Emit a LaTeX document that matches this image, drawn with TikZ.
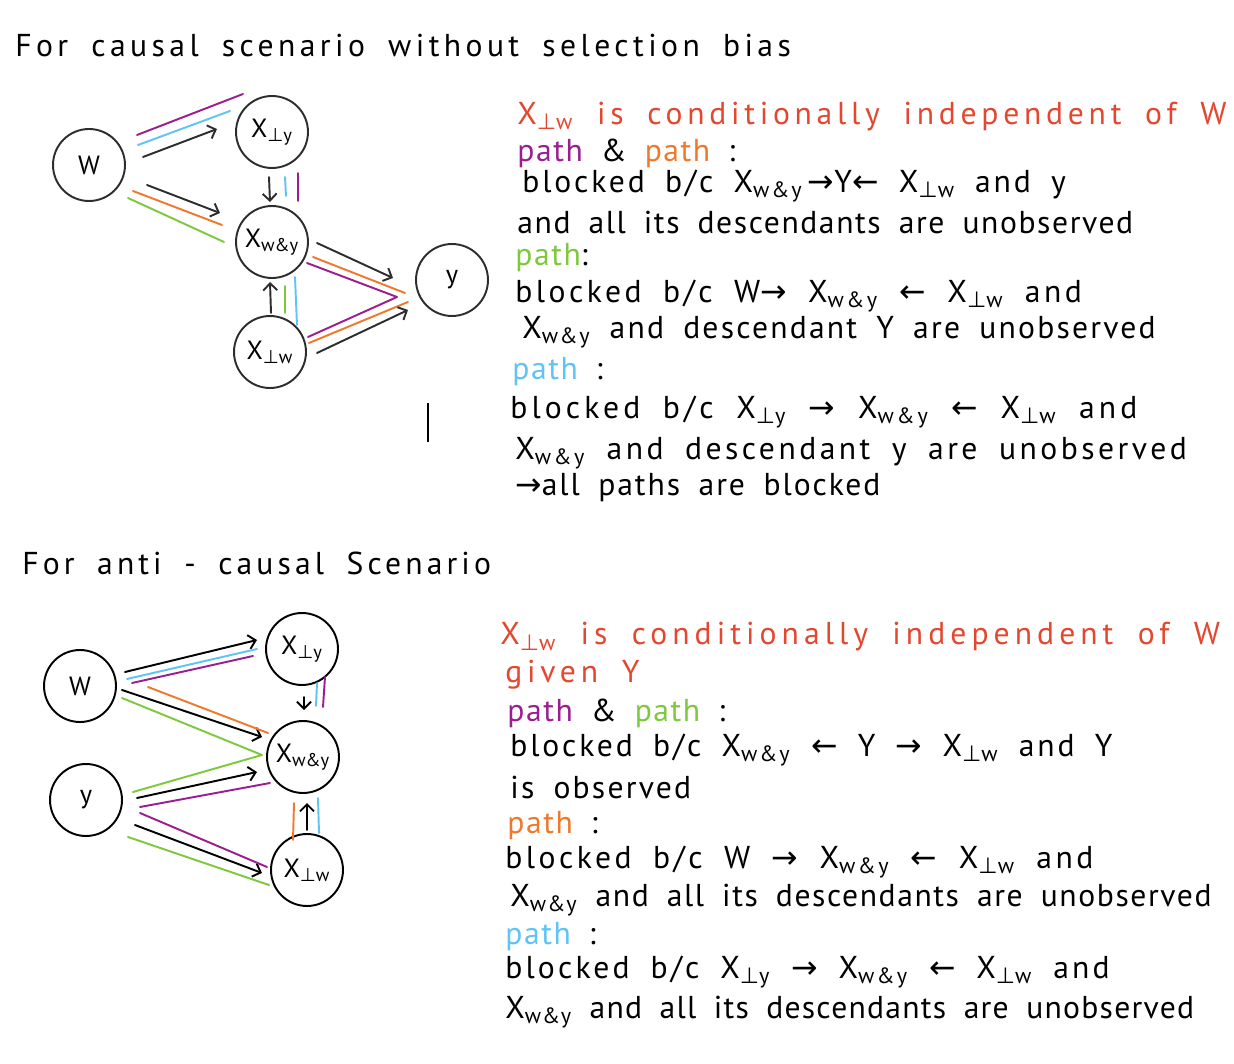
\documentclass[tikz,border=0pt]{standalone}
\usepackage{fontspec}
\setmainfont{PT Sans}[WordSpace=1.8]
\newfontfamily\symfont{DejaVu Sans}
\usetikzlibrary{arrows.meta,calc}

\definecolor{hred}{RGB}{226,72,48}
\definecolor{hmag}{RGB}{155,30,145}
\definecolor{horg}{RGB}{240,120,45}
\definecolor{hgrn}{RGB}{125,200,60}
\definecolor{hcyn}{RGB}{95,195,245}
\definecolor{hink}{RGB}{45,45,45}

\newcommand{\pp}{{\symfont ⊥}}
\newcommand{\toarr}{{\symfont →}}
\newcommand{\fromarr}{{\symfont ←}}
\newcommand{\Xpy}{X\textsubscript{\pp y}}
\newcommand{\Xpw}{X\textsubscript{\pp w}}
\newcommand{\Xwy}{X\textsubscript{w\&y}}

\tikzset{
  var/.style={circle,draw=hink,line width=1.1pt,minimum size=1.44cm,inner sep=0pt,
    font=\fontsize{15}{17}\selectfont},
  link/.style={hink,line width=1.1pt,line cap=round,-{Straight Barb[length=4pt,width=8pt]}},
  strand/.style={line width=1.1pt,line cap=round},
  hand/.style={anchor=west,inner sep=0pt,
    font=\fontsize{18}{22}\selectfont\addfontfeature{LetterSpace=#1}},
  hand/.default=5,
}

\begin{document}
\begin{tikzpicture}[x=0.02cm,y=-0.02cm]
  \useasboundingbox (0,0) rectangle (1234,1064);

  % ---- Causal scenario (top) ----
  \node[hand=14] (ttop) at (15,45) {For causal scenario without selection bias};

  \node[var] (w)   at (89,165)  {W};
  \node[var] (xpy) at (272,132) {\Xpy};
  \node[var] (xwy) at (272,242) {\Xwy};
  \node[var] (xpw) at (270,352) {\Xpw};
  \node[var] (y)   at (452,280) {y};

  % W to X_{perp y}
  \draw[link] ($(w)+(54,-8)$) -- ($(xpy)+(-55,-3)$);
  \draw[strand,hmag] ($(w)+(48,-30)$) -- ($(xpy)+(-29,-38)$);
  \draw[strand,hcyn] ($(w)+(49,-20)$) -- ($(xpy)+(-42,-21)$);
  % W to X_{w&y}
  \draw[link] ($(w)+(58,20)$) -- ($(xwy)+(-52,-29)$);
  \draw[strand,horg] ($(w)+(44,26)$) -- ($(xwy)+(-50,-17)$);
  \draw[strand,hgrn] ($(w)+(39,33)$) -- ($(xwy)+(-48,0)$);
  % X_{perp y} to X_{w&y}
  \draw[link] ($(xpy)+(-3,45)$) -- ($(xwy)+(-2,-40)$);
  \draw[strand,hcyn] ($(xpy)+(13,45)$) -- ($(xwy)+(14,-46)$);
  \draw[strand,hmag] ($(xpy)+(26,41)$) -- ($(xwy)+(26,-41)$);
  % X_{perp w} to X_{w&y}
  \draw[link] ($(xpw)+(1,-39)$) -- ($(xwy)+(-2,40)$);
  \draw[strand,hgrn] ($(xwy)+(13,44)$) -- ($(xpw)+(15,-39)$);
  \draw[strand,hcyn] ($(xwy)+(23,35)$) -- ($(xpw)+(27,-27)$);
  % into Y
  \draw[link] ($(xwy)+(45,1)$) -- ($(y)+(-59,-2)$);
  \draw[strand,horg] ($(xwy)+(41,15)$) -- ($(y)+(-47,13)$);
  \coordinate (vtip) at ($(y)+(-55,17)$);
  \draw[strand,hmag,line join=round] ($(xwy)+(35,21)$) -- (vtip) -- ($(xpw)+(38,-15)$);
  \draw[strand,horg] ($(xpw)+(39,-9)$) -- ($(y)+(-44,22)$);
  \draw[link] ($(xpw)+(47,1)$) -- ($(y)+(-44,30)$);

  % stray stroke
  \draw[line width=1.4pt] (428,403) -- (428,442);

  % Notes
  \node[hand=15,hred] (c1) at (517,117) {\Xpw\ is conditionally independent of W};
  \node[hand] (c2)  at (517,153) {{\color{hmag}path} \& {\color{horg}path} :};
  \node[hand=9] (c3)  at (522,186) {blocked b/c \Xwy\,\toarr Y\fromarr\ \Xpw\ and y};
  \node[hand] (c4)  at (517,222) {and all its descendants are unobserved};
  \node[hand] (c5)  at (515,258) {{\color{hgrn}path}:};
  \node[hand=11] (c6)  at (515,296) {blocked b/c W\toarr\ \Xwy\ \fromarr\ \Xpw\ and};
  \node[hand=7] (c7)  at (522,332) {\Xwy\ and descendant Y are unobserved};
  \node[hand] (c8)  at (512,372) {{\color{hcyn}path} :};
  \node[hand=13] (c9)  at (510,412) {blocked b/c \Xpy\ \toarr\ \Xwy\ \fromarr\ \Xpw\ and};
  \node[hand=11] (c10) at (515,453) {\Xwy\ and descendant y are unobserved};
  \node[hand=6] (c11) at (515,488) {\toarr all paths are blocked};

  % ---- Anti-causal scenario (bottom) ----
  \node[hand=13] (tbot) at (22,563) {For anti - causal Scenario};

  \node[var,draw=black] (bw)   at (80,686)  {W};
  \node[var,draw=black] (by)   at (86,800)  {y};
  \node[var,draw=black] (bxpy) at (302,649) {\Xpy};
  \node[var,draw=black] (bxwy) at (303,757) {\Xwy};
  \node[var,draw=black] (bxpw) at (307,870) {\Xpw};

  % W to X_{perp y}
  \draw[link,black] ($(bw)+(45,-14)$) -- ($(bxpy)+(-45,-9)$);
  \draw[strand,hcyn] ($(bw)+(47,-7)$) -- ($(bxpy)+(-45,0)$);
  \draw[strand,hmag] ($(bw)+(52,-3)$) -- ($(bxpy)+(-49,7)$);
  % W to X_{w&y}
  \draw[link,black] ($(bw)+(42,4)$) -- ($(bxwy)+(-41,-20)$);
  \draw[strand,horg] ($(bw)+(68,1)$) -- ($(bxwy)+(-35,-24)$);
  \coordinate (gtip) at ($(bxwy)+(-41,-2)$);
  \draw[strand,hgrn,line join=round] ($(bw)+(42,12)$) -- (gtip) -- ($(by)+(47,-8)$);
  % Y to X_{w&y}
  \draw[link,black] ($(by)+(51,-2)$) -- ($(bxwy)+(-46,15)$);
  \draw[strand,hmag] ($(by)+(54,7)$) -- ($(bxwy)+(-33,26)$);
  % Y to X_{perp w}
  \draw[link,black] ($(by)+(49,25)$) -- ($(bxpw)+(-45,3)$);
  \draw[strand,hmag] ($(by)+(54,13)$) -- ($(bxpw)+(-40,-3)$);
  \draw[strand,hgrn] ($(by)+(42,37)$) -- ($(bxpw)+(-38,15)$);
  % X_{perp y} to X_{w&y}
  \draw[link,black] ($(bxpy)+(2,48)$) -- ($(bxwy)+(1,-47)$);
  \draw[strand,hcyn] ($(bxpy)+(15,34)$) -- ($(bxwy)+(13,-51)$);
  \draw[strand,hmag] ($(bxpy)+(23,28)$) -- ($(bxwy)+(20,-50)$);
  % X_{perp w} to X_{w&y}
  \draw[link,black] ($(bxpw)+(0,-40)$) -- ($(bxwy)+(4,46)$);
  \draw[strand,horg] ($(bxwy)+(-9,46)$) -- ($(bxpw)+(-14,-30)$);
  \draw[strand,hcyn] ($(bxwy)+(15,41)$) -- ($(bxpw)+(12,-37)$);

  % Notes
  \node[hand=16,hred] (a1) at (500,637) {\Xpw\ is conditionally independent of W};
  \node[hand=15,hred] (a2) at (505,675) {given Y};
  \node[hand] (a3)  at (507,713) {{\color{hmag}path} \& {\color{hgrn}path} :};
  \node[hand=9] (a4)  at (510,750) {blocked b/c \Xwy\ \fromarr\ Y \toarr\ \Xpw\ and Y};
  \node[hand=7] (a5)  at (510,787) {is observed};
  \node[hand=11] (a7)  at (505,862) {blocked b/c W \toarr\ \Xwy\ \fromarr\ \Xpw\ and};
  \node[hand] (a6)  at (507,826) {{\color{horg}path} :};
  \node[hand] (a8)  at (510,900) {\Xwy\ and all its descendants are unobserved};
  \node[hand] (a9)  at (505,937) {{\color{hcyn}path} :};
  \node[hand=10] (a10) at (505,972) {blocked b/c \Xpy\ \toarr\ \Xwy\ \fromarr\ \Xpw\ and};
  \node[hand=4] (a11) at (505,1012) {\Xwy\ and all its descendants are unobserved};
\end{tikzpicture}
\end{document}
